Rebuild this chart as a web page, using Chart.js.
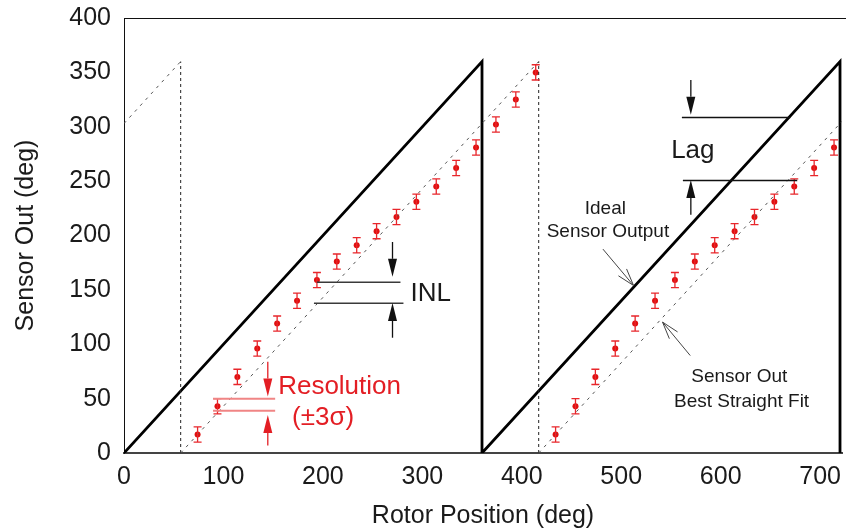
<!DOCTYPE html>
<html lang="en">
<head>
<meta charset="UTF-8">
<title>Sensor Out vs Rotor Position</title>
<script src="https://cdn.jsdelivr.net/npm/chart.js"></script>
<style>
  html, body { margin: 0; padding: 0; background: #fff; }
  #wrap { width: 846px; height: 531px; }
</style>
</head>
<body>
<div id="wrap"><canvas id="myChart" width="846" height="531"></canvas></div>
<script>
// measured sensor output (deg) with +-3 sigma spread
const rotorPos  = [74, 94, 114, 134, 154, 174, 194, 214, 234, 254, 274, 294, 314, 334, 354, 374, 394, 414,
                   434, 454, 474, 494, 514, 534, 554, 574, 594, 614, 634, 654, 674, 694, 714];
const sensorOut = [17, 43, 70, 96, 119, 140, 159, 176, 191, 204, 217, 231, 245, 262, 281, 302, 325, 350,
                   17, 43, 70, 96, 119, 140, 159, 176, 191, 204, 217, 231, 245, 262, 281];
const sensorErr = [7, 7, 7, 7, 7, 7, 7, 7, 7, 7, 7, 7, 7, 7, 7, 7, 7, 7,
                   7, 7, 7, 7, 7, 7, 7, 7, 7, 7, 7, 7, 7, 7, 7];

// ideal sensor output (sawtooth)
const idealX = [0, 360, 360, 720, 720];
const idealY = [0, 360, 0, 360, 0];

// best straight fit, wraps at 360 (null = break)
const fitX = [0, 57, 57, 57, 417, 417, 417, 722];
const fitY = [303, 360, null, 0, 360, null, 0, 305];

// dashed wrap guides
const guideX = [57, 57, 57, 417, 417];
const guideY = [0, 360, null, 0, 360];

const xTicks = [0, 100, 200, 300, 400, 500, 600, 700];
const yTicks = [0, 50, 100, 150, 200, 250, 300, 350, 400];

// annotation texts in data units
const notes = [
  { text: 'INL',               x: 288,   y: 146,   size: 26, color: '#1a1a1a', align: 'left' },
  { text: 'Resolution',        x: 155,   y: 61,    size: 26, color: '#e31e24', align: 'left' },
  { text: '(\u00b13\u03c3)',   x: 169,   y: 32,    size: 26, color: '#e31e24', align: 'left' },
  { text: 'Lag',               x: 572,   y: 278,   size: 26, color: '#1a1a1a', align: 'center' },
  { text: 'Ideal',             x: 484,   y: 224.5, size: 19, color: '#1a1a1a', align: 'center' },
  { text: 'Sensor Output',     x: 486.6, y: 203,   size: 19, color: '#1a1a1a', align: 'center' },
  { text: 'Sensor Out',        x: 618.7, y: 70,    size: 19, color: '#1a1a1a', align: 'center' },
  { text: 'Best Straight Fit', x: 621,   y: 47.4,  size: 19, color: '#1a1a1a', align: 'center' }
];
// horizontal reference lines
const refLines = [
  { x1: 194,  x2: 278, y: 157,   color: '#3a3a3a', w: 1.5 },
  { x1: 191,  x2: 281, y: 137.6, color: '#3a3a3a', w: 1.5 },
  { x1: 89.5, x2: 152, y: 49.9,  color: '#f08585', w: 2 },
  { x1: 89.5, x2: 152, y: 38.8,  color: '#f08585', w: 2 },
  { x1: 561,  x2: 670, y: 308.5, color: '#111',    w: 1.5 },
  { x1: 562,  x2: 677, y: 250.6, color: '#111',    w: 1.5 }
];
// filled arrows (vertical), from y1 to tip y2
const arrows = [
  { x: 270,   y1: 194, y2: 162,   color: '#111' },
  { x: 270,   y1: 106, y2: 138,   color: '#111' },
  { x: 144.6, y1: 84,  y2: 52,    color: '#e31e24' },
  { x: 144.6, y1: 7,   y2: 35,    color: '#e31e24' },
  { x: 570,   y1: 343, y2: 311,   color: '#111' },
  { x: 570,   y1: 219, y2: 251,   color: '#111' }
];
// thin pointers with open heads
const pointers = [
  { x1: 481.6, y1: 187.5, x2: 512.4, y2: 154 },
  { x1: 569.4, y1: 89.6,  x2: 541.5, y2: 120.4 }
];

const FONT = '"Liberation Sans", Arial, sans-serif';

function pairs(xs, ys) {
  return xs.map((x, i) => ({ x: x, y: ys[i] }));
}

const errorBars = {
  id: 'errorBars',
  afterDatasetsDraw(chart) {
    const { ctx, scales: { x, y } } = chart;
    ctx.save();
    ctx.strokeStyle = '#e8262b';
    ctx.lineWidth = 1.3;
    rotorPos.forEach((p, i) => {
      const px = x.getPixelForValue(p);
      const top = y.getPixelForValue(sensorOut[i] + sensorErr[i]);
      const bot = y.getPixelForValue(sensorOut[i] - sensorErr[i]);
      ctx.beginPath();
      ctx.moveTo(px, top); ctx.lineTo(px, bot);
      ctx.moveTo(px - 4, top); ctx.lineTo(px + 4, top);
      ctx.moveTo(px - 4, bot); ctx.lineTo(px + 4, bot);
      ctx.stroke();
    });
    ctx.restore();
  }
};

const annotate = {
  id: 'annotate',
  afterDatasetsDraw(chart) {
    const { ctx, chartArea, scales: { x, y } } = chart;
    ctx.save();
    // top frame
    ctx.strokeStyle = '#111';
    ctx.lineWidth = 1;
    ctx.beginPath();
    ctx.moveTo(chartArea.left, chartArea.top + 0.5);
    ctx.lineTo(846, chartArea.top + 0.5);
    ctx.stroke();

    refLines.forEach(l => {
      ctx.strokeStyle = l.color;
      ctx.lineWidth = l.w;
      ctx.beginPath();
      ctx.moveTo(x.getPixelForValue(l.x1), y.getPixelForValue(l.y));
      ctx.lineTo(x.getPixelForValue(l.x2), y.getPixelForValue(l.y));
      ctx.stroke();
    });

    arrows.forEach(a => {
      const px = x.getPixelForValue(a.x);
      const p1 = y.getPixelForValue(a.y1);
      const p2 = y.getPixelForValue(a.y2);
      const dir = p2 > p1 ? 1 : -1;
      const head = 18;
      ctx.strokeStyle = a.color;
      ctx.fillStyle = a.color;
      ctx.lineWidth = 1.3;
      ctx.beginPath();
      ctx.moveTo(px, p1); ctx.lineTo(px, p2 - dir * head);
      ctx.stroke();
      ctx.beginPath();
      ctx.moveTo(px, p2);
      ctx.lineTo(px - 4.5, p2 - dir * head);
      ctx.lineTo(px + 4.5, p2 - dir * head);
      ctx.closePath();
      ctx.fill();
    });

    pointers.forEach(p => {
      const ax = x.getPixelForValue(p.x1), ay = y.getPixelForValue(p.y1);
      const bx = x.getPixelForValue(p.x2), by = y.getPixelForValue(p.y2);
      const ang = Math.atan2(ay - by, ax - bx);
      ctx.strokeStyle = '#444';
      ctx.lineWidth = 1;
      ctx.beginPath();
      ctx.moveTo(ax, ay); ctx.lineTo(bx, by);
      [-0.3, 0.3].forEach(d => {
        ctx.moveTo(bx, by);
        ctx.lineTo(bx + 18 * Math.cos(ang + d), by + 18 * Math.sin(ang + d));
      });
      ctx.stroke();
    });

    ctx.textBaseline = 'middle';
    notes.forEach(n => {
      ctx.font = n.size + 'px ' + FONT;
      ctx.fillStyle = n.color;
      ctx.textAlign = n.align;
      ctx.fillText(n.text, x.getPixelForValue(n.x), y.getPixelForValue(n.y));
    });
    ctx.restore();
  }
};

const ctx = document.getElementById('myChart').getContext('2d');
new Chart(ctx, {
  type: 'scatter',
  data: {
    datasets: [
      {
        label: 'Best Straight Fit',
        data: pairs(fitX, fitY),
        showLine: true,
        spanGaps: false,
        borderColor: '#555',
        borderWidth: 1,
        borderDash: [3, 5],
        pointRadius: 0
      },
      {
        label: 'Wrap',
        data: pairs(guideX, guideY),
        showLine: true,
        spanGaps: false,
        borderColor: '#222',
        borderWidth: 1,
        borderDash: [3, 3],
        pointRadius: 0
      },
      {
        label: 'Ideal Sensor Output',
        data: pairs(idealX, idealY),
        showLine: true,
        borderColor: '#000',
        borderWidth: 2.8,
        pointRadius: 0
      },
      {
        label: 'Sensor Out',
        data: pairs(rotorPos, sensorOut),
        showLine: false,
        pointRadius: 3,
        pointBorderWidth: 0,
        backgroundColor: '#e00f0f',
        borderColor: '#e00f0f'
      }
    ]
  },
  options: {
    responsive: false,
    animation: false,
    layout: { padding: { top: 18, right: 0, left: 0, bottom: 0 } },
    plugins: {
      legend: { display: false },
      tooltip: { enabled: false }
    },
    scales: {
      x: {
        type: 'linear',
        min: 0,
        max: 722,
        afterBuildTicks: s => { s.ticks = xTicks.map(v => ({ value: v })); },
        afterFit: s => { s.height = 78; s.paddingLeft = 0; s.paddingRight = 0; },
        grid: { display: false, drawTicks: false },
        border: { display: true, color: '#444', width: 2 },
        ticks: { color: '#1a1a1a', padding: 9, font: { family: FONT, size: 25 } },
        title: {
          display: true,
          text: 'Rotor Position (deg)',
          color: '#1a1a1a',
          padding: { top: 0, bottom: 0 },
          font: { family: FONT, size: 25 }
        }
      },
      y: {
        type: 'linear',
        min: 0,
        max: 400,
        afterBuildTicks: s => { s.ticks = yTicks.map(v => ({ value: v })); },
        afterFit: s => { s.width = 124; s.paddingTop = 0; s.paddingBottom = 0; },
        grid: { display: false, drawTicks: false },
        border: { display: true, color: '#111', width: 1 },
        ticks: { color: '#1a1a1a', padding: 13, font: { family: FONT, size: 25 } },
        title: {
          display: true,
          text: 'Sensor Out (deg)',
          color: '#1a1a1a',
          padding: { top: 11, bottom: 0 },
          font: { family: FONT, size: 25 }
        }
      }
    }
  },
  plugins: [errorBars, annotate]
});
</script>
</body>
</html>
